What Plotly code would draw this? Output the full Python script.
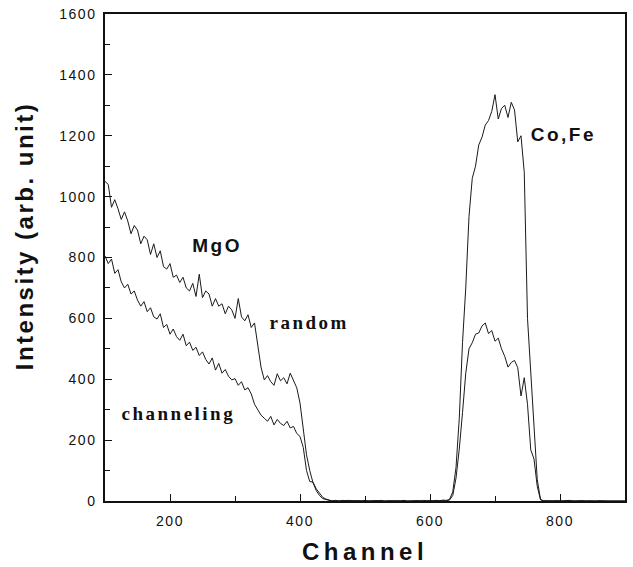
import plotly.graph_objects as go

# Channel axis (every 5th channel)
channels = list(range(100, 905, 5))

# "random" spectrum (ch 100 .. 900 step 5)
random_counts = [
    1050, 1040, 965, 990, 960, 925, 950, 920, 878, 905,
    890, 845, 870, 858, 810, 845, 800, 822, 770, 762,
    780, 735, 742, 718, 735, 700, 690, 715, 672, 745,
    668, 690, 680, 640, 665, 640, 648, 615, 640, 628,
    600, 665, 605, 592, 612, 570, 585, 510, 440, 398,
    412, 392, 380, 418, 395, 405, 385, 420, 395, 372,
    322, 240, 152, 100, 60, 34, 18, 8, 4, 2,
    1, 2, 0, 1, 0, 2, 1, 0, 1, 0,
    2, 0, 1, 0, 1, 2, 0, 1, 0, 1,
    0, 1, 2, 0, 1, 0, 1, 0, 2, 1,
    0, 1, 2, 1, 3, 2, 5, 30, 110, 270,
    520, 700, 935, 1060, 1100, 1170, 1195, 1235, 1250, 1280,
    1335, 1255, 1290, 1300, 1260, 1310, 1285, 1180, 1200, 1080,
    600, 420, 240, 70, 5, 1, 0, 1, 0, 1,
    0, 1, 0, 2, 0, 1, 0, 1, 0, 0,
    1, 0, 0, 1, 0, 1, 0, 0, 1, 0,
    0,
]

# "channeling" spectrum
channeling_counts = [
    805, 780, 795, 748, 760, 720, 700, 712, 680, 690,
    660, 640, 655, 622, 635, 605, 598, 615, 570, 580,
    548, 565, 540, 528, 548, 510, 522, 495, 505, 478,
    490, 465, 450, 470, 430, 452, 420, 432, 410, 398,
    402, 380, 392, 365, 372, 352, 318, 300, 282, 272,
    262, 278, 250, 268, 255, 248, 262, 240, 245, 222,
    212, 176, 100, 64, 62, 40, 24, 12, 6, 2,
    0, 1, 0, 2, 1, 0, 0, 1, 0, 1,
    1, 0, 0, 1, 0, 1, 0, 0, 1, 0,
    1, 0, 1, 0, 0, 1, 0, 1, 0, 0,
    1, 0, 0, 1, 2, 1, 3, 18, 75, 170,
    290, 420, 500, 520, 548, 552, 575, 585, 550, 560,
    525, 535, 500, 475, 440, 455, 462, 438, 345, 405,
    318, 168, 138, 48, 4, 0, 1, 0, 0, 1,
    0, 0, 1, 0, 0, 0, 1, 0, 0, 1,
    0, 0, 1, 0, 0, 0, 0, 1, 0, 0,
    0,
]

x_tickvals = [200, 400, 600, 800]
y_tickvals = [0, 200, 400, 600, 800, 1000, 1200, 1400, 1600]

labels = [
    dict(text="MgO", x=272, y=838, font=dict(family="Liberation Sans, Arial", size=19, color="#111")),
    dict(text="random", x=414, y=588, font=dict(family="Liberation Serif, Times New Roman", size=19, color="#111")),
    dict(text="channeling", x=213, y=287, font=dict(family="Liberation Serif, Times New Roman", size=19, color="#111")),
    dict(text="Co,Fe", x=805, y=1204, font=dict(family="Liberation Sans, Arial", size=19, color="#111")),
]

fig = go.Figure()
fig.add_trace(go.Scatter(x=channels, y=random_counts, mode="lines", name="random",
                         line=dict(color="#1a1a1a", width=1)))
fig.add_trace(go.Scatter(x=channels, y=channeling_counts, mode="lines", name="channeling",
                         line=dict(color="#1a1a1a", width=1)))

for lab in labels:
    fig.add_annotation(x=lab["x"], y=lab["y"], xref="x", yref="y",
                       text="<b>" + lab["text"] + "</b>", showarrow=False, font=lab["font"])

# y-axis title placed as a rotated label left of the tick labels
fig.add_annotation(x=-0.155, y=0.545, xref="paper", yref="paper", textangle=-90,
                   xanchor="center", yanchor="middle", showarrow=False,
                   text="<b>Intensity (arb. unit)</b>",
                   font=dict(family="Liberation Sans, Arial", size=24, color="#111"))

axis_common = dict(
    showgrid=False, zeroline=False, showline=True, linecolor="#111", linewidth=1.5,
    mirror=True, ticks="inside", ticklen=7, tickwidth=1.2, tickcolor="#111",
    tickfont=dict(family="Liberation Sans, Arial", size=14, color="#111"),
)

fig.update_xaxes(range=[100, 900], tickvals=x_tickvals, ticklabelstandoff=6,
                 minor=dict(dtick=100, tick0=100, ticks="inside", ticklen=5, tickcolor="#111", showgrid=False),
                 title=dict(text="<b>Channel</b>", standoff=16,
                            font=dict(family="Liberation Sans, Arial", size=24, color="#111")),
                 **axis_common)
fig.update_yaxes(range=[0, 1600], tickvals=y_tickvals, ticklabelstandoff=4,
                 minor=dict(dtick=100, tick0=0, ticks="inside", ticklen=5, tickcolor="#111", showgrid=False),
                 **axis_common)

fig.update_layout(
    width=633, height=567, showlegend=False,
    margin=dict(l=105, r=6, t=13, b=65),
    plot_bgcolor="white", paper_bgcolor="white",
)

post = """
var gd = document.getElementById('{plot_id}');
function ls(){
  gd.querySelectorAll('.xtick text, .ytick text').forEach(function(t){t.style.letterSpacing='1.5px';});
  var xt = gd.querySelector('.xtitle'); if (xt) xt.style.letterSpacing='4.5px';
  gd.querySelectorAll('.annotation-text').forEach(function(t){t.style.letterSpacing='2.5px';});
}
ls();
if (gd.on) gd.on('plotly_afterplot', ls);
"""

fig.write_html("out.html", post_script=post)
